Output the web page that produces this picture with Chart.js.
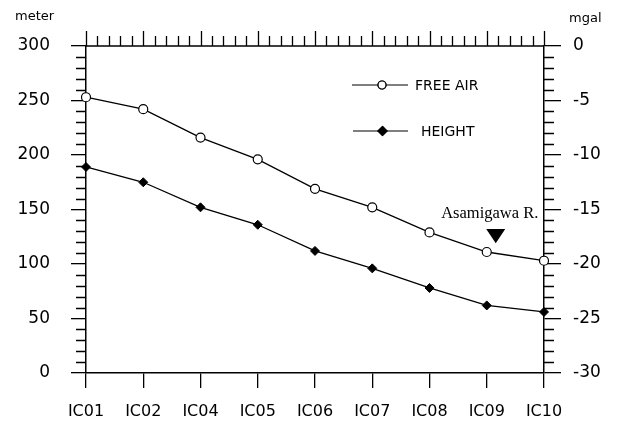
<!DOCTYPE html>
<html>
<head>
<meta charset="utf-8">
<script src="https://cdn.jsdelivr.net/npm/chart.js@4.4.0/dist/chart.umd.min.js"></script>
<style>
  html, body { margin: 0; padding: 0; background: #fff; }
</style>
</head>
<body>
<canvas id="gravityChart" width="619" height="426"></canvas>
<script>
// stations along the profile
const stations = ['IC01', 'IC02', 'IC04', 'IC05', 'IC06', 'IC07', 'IC08', 'IC09', 'IC10'];
// free-air anomaly, mgal (right axis)
const freeAir = [-4.7, -5.8, -8.4, -10.4, -13.1, -14.8, -17.1, -18.9, -19.7];
// station height, meter (left axis)
const height = [189, 175, 152, 136, 112, 96, 78, 62, 56];
// axis tick values
const meterTicks = [0, 50, 100, 150, 200, 250, 300];
const mgalTicks = [-30, -25, -20, -15, -10, -5, 0];

const sans = 'DejaVu Sans, sans-serif';

// frame: top border, top ticks and the minor ticks on both value axes
const frameTicks = {
    id: 'frameTicks',
    afterDraw(chart) {
        const { ctx, chartArea: a, scales } = chart;
        const x = scales.x, y = scales.y, y1 = scales.y1;
        ctx.save();
        ctx.strokeStyle = '#000';
        ctx.lineWidth = 1.3;
        ctx.beginPath();
        ctx.moveTo(a.left, a.top);
        ctx.lineTo(a.right, a.top);
        // top: long tick at every station, four short ones between
        for (let i = 0; i < stations.length; i++) {
            for (let k = 0; k < 5; k++) {
                const v = i + k / 5;
                if (v > stations.length - 1) break;
                const px = Math.round(x.getPixelForValue(v)) + 0.5;
                ctx.moveTo(px, a.top);
                ctx.lineTo(px, a.top - (k ? 10 : 15));
            }
        }
        // left: every 10 m
        for (let v = meterTicks[0]; v <= meterTicks[meterTicks.length - 1]; v += 10) {
            if (v % 50 === 0) continue;
            const py = Math.round(y.getPixelForValue(v)) + 0.5;
            ctx.moveTo(a.left, py);
            ctx.lineTo(a.left - 10, py);
        }
        // right: every 1 mgal
        for (let v = mgalTicks[0]; v <= mgalTicks[mgalTicks.length - 1]; v += 1) {
            if (v % 5 === 0) continue;
            const py = Math.round(y1.getPixelForValue(v)) + 0.5;
            ctx.moveTo(a.right, py);
            ctx.lineTo(a.right + 10, py);
        }
        ctx.stroke();

        // axis titles
        ctx.fillStyle = '#000';
        ctx.font = '13px ' + sans;
        ctx.textBaseline = 'middle';
        ctx.textAlign = 'left';
        ctx.fillText('meter', 15, 17);
        ctx.fillText('mgal', 569, 19);
        ctx.restore();
    }
};

// legend drawn inside the plot, upper right
const innerLegend = {
    id: 'innerLegend',
    afterDraw(chart) {
        const { ctx } = chart;
        const rows = [
            { y: 85, x0: 352, x1: 408, textX: 415 },
            { y: 131, x0: 353, x1: 408, textX: 421 }
        ];
        ctx.save();
        chart.data.datasets.forEach((ds, i) => {
            const r = rows[i];
            const cx = (r.x0 + r.x1) / 2 + 2;
            ctx.strokeStyle = ds.borderColor;
            ctx.lineWidth = 1.2;
            ctx.beginPath();
            ctx.moveTo(r.x0, r.y);
            ctx.lineTo(r.x1, r.y);
            ctx.stroke();
            Chart.helpers.drawPoint(ctx, {
                pointStyle: ds.pointStyle,
                radius: ds.pointStyle === 'circle' ? 4 : 4.5,
                rotation: 0,
                borderWidth: 1.2
            }, cx, r.y);
            ctx.fillStyle = ds.pointBackgroundColor;
            ctx.strokeStyle = ds.pointBorderColor;
            ctx.beginPath();
            if (ds.pointStyle === 'circle') {
                ctx.arc(cx, r.y, 4, 0, Math.PI * 2);
            } else {
                ctx.moveTo(cx, r.y - 4.5);
                ctx.lineTo(cx + 4.5, r.y);
                ctx.lineTo(cx, r.y + 4.5);
                ctx.lineTo(cx - 4.5, r.y);
                ctx.closePath();
            }
            ctx.fill();
            ctx.stroke();
            ctx.fillStyle = '#000';
            ctx.font = '14px ' + sans;
            ctx.textAlign = 'left';
            ctx.textBaseline = 'middle';
            ctx.fillText(ds.label, r.textX, r.y + 1);
        });
        ctx.restore();
    }
};

// river marker above IC09
const riverMark = {
    id: 'riverMark',
    afterDraw(chart) {
        const { ctx, scales } = chart;
        const px = scales.x.getPixelForValue(7) + 9;
        const yTop = scales.y1.getPixelForValue(-16.8);
        const yTip = scales.y1.getPixelForValue(-18.1);
        ctx.save();
        ctx.fillStyle = '#000';
        ctx.font = '16.5px "Liberation Serif", "Times New Roman", serif';
        ctx.textAlign = 'center';
        ctx.textBaseline = 'middle';
        ctx.fillText('Asamigawa R.', px - 6, scales.y1.getPixelForValue(-15.4));
        ctx.beginPath();
        ctx.moveTo(px - 9.5, yTop);
        ctx.lineTo(px + 9.5, yTop);
        ctx.lineTo(px, yTip);
        ctx.closePath();
        ctx.fill();
        ctx.restore();
    }
};

const ctx = document.getElementById('gravityChart').getContext('2d');

const gravityChart = new Chart(ctx, {
    type: 'line',
    data: {
        labels: stations,
        datasets: [{
            label: 'FREE AIR',
            data: freeAir,
            yAxisID: 'y1',
            borderColor: '#000',
            borderWidth: 1.3,
            pointStyle: 'circle',
            pointRadius: 4.5,
            pointBorderWidth: 1.2,
            pointBackgroundColor: '#fff',
            pointBorderColor: '#000',
            tension: 0
        }, {
            label: 'HEIGHT',
            data: height,
            yAxisID: 'y',
            borderColor: '#000',
            borderWidth: 1.3,
            pointStyle: 'rectRot',
            pointRadius: 4.5,
            pointBorderWidth: 1,
            pointBackgroundColor: '#000',
            pointBorderColor: '#000',
            tension: 0
        }]
    },
    options: {
        responsive: false,
        animation: false,
        layout: { padding: { top: 46, left: 0, right: 0, bottom: 0 } },
        plugins: {
            legend: { display: false },
            tooltip: { enabled: false }
        },
        scales: {
            x: {
                offset: false,
                grid: { drawOnChartArea: false, tickLength: 15, color: '#000', lineWidth: 1.3 },
                border: { color: '#000', width: 1.5 },
                ticks: { color: '#000', font: { family: sans, size: 16 }, padding: 14, maxRotation: 0, autoSkip: false },
                afterFit(scale) { scale.height = 53; }
            },
            y: {
                position: 'left',
                min: meterTicks[0],
                max: meterTicks[meterTicks.length - 1],
                afterBuildTicks(scale) { scale.ticks = meterTicks.map(v => ({ value: v })); },
                grid: { drawOnChartArea: false, tickLength: 15, color: '#000', lineWidth: 1.3 },
                border: { color: '#000', width: 1.5 },
                ticks: { color: '#000', font: { family: sans, size: 17 }, padding: 21 },
                afterFit(scale) { scale.width = 86; }
            },
            y1: {
                position: 'right',
                min: mgalTicks[0],
                max: mgalTicks[mgalTicks.length - 1],
                afterBuildTicks(scale) { scale.ticks = mgalTicks.map(v => ({ value: v })); },
                grid: { drawOnChartArea: false, tickLength: 17, color: '#000', lineWidth: 1.3 },
                border: { color: '#000', width: 1.5 },
                ticks: { color: '#000', font: { family: sans, size: 17 }, padding: 12 },
                afterFit(scale) { scale.width = 75; }
            }
        }
    },
    plugins: [frameTicks, innerLegend, riverMark]
});
</script>
</body>
</html>
